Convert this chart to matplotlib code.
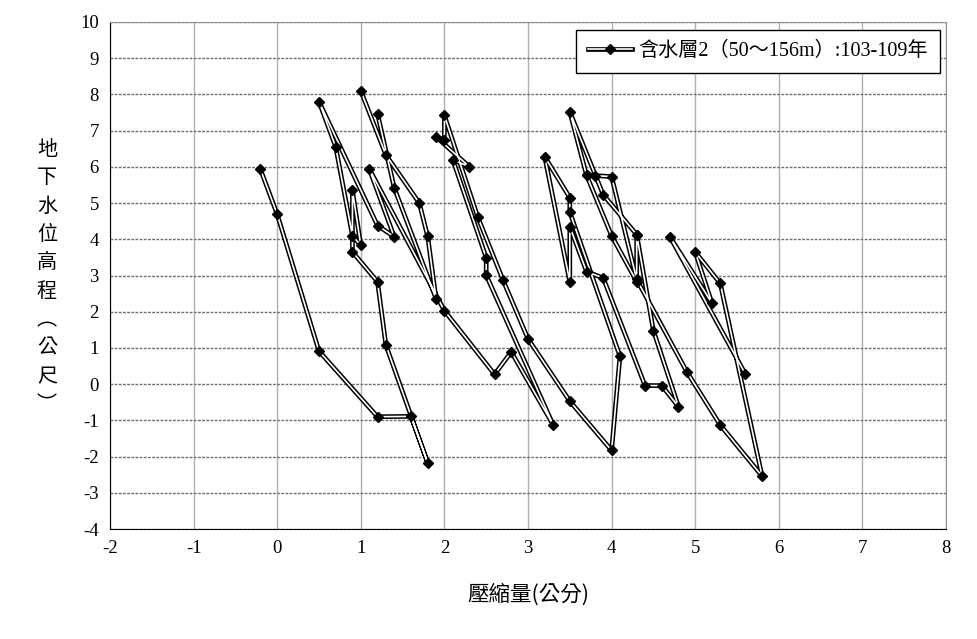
import numpy as np
import matplotlib
matplotlib.use('Agg')
import matplotlib.pyplot as plt

plt.rcParams['axes.unicode_minus'] = False

nan = np.nan

# 壓縮量(公分) and 地下水位(公尺), in drawing order; nan = gap in the series
compaction = [-0.2, 0.0, 0.5, 1.2, 1.6, 1.8, 1.3, 1.2, 0.9, 0.9, 1.0, 0.9, 0.7, 0.5,
              1.2, 1.4, 1.1, 2.0, 2.6, 2.8, 3.3, 2.5, 2.5, 2.1, 2.3, 1.9, 2.0, 2.0,
              2.4, 2.7, 3.0, 3.5, 4.0, 4.1, 3.5, 3.5, 3.2, 3.5, 3.5, 3.7, 3.9,
              4.4, 4.6, 4.8, 4.5, 4.3, 3.9, 3.5, 3.7, 3.8, 4.0, 4.3,
              4.9, 5.3, 5.8, 5.3, 5.0, 5.2, 4.7, 5.6,
              nan,
              1.0, 1.3, 1.7, 1.8, 1.9, 1.4, 1.2,
              nan,
              3.7, 4.0, 4.3, 4.3]
water_level = [5.93, 4.69, 0.91, -0.90, -0.89, -2.17, 1.08, 2.83, 3.65, 5.35, 3.83, 4.10, 6.55, 7.80,
               4.38, 4.07, 5.95, 2.03, 0.27, 0.89, -1.12, 3.01, 3.49, 6.20, 6.00, 6.83, 6.74, 7.42,
               4.61, 2.88, 1.25, -0.47, -1.83, 0.77, 4.75, 5.15, 6.28, 2.83, 4.35, 3.11, 2.93,
               -0.04, -0.04, -0.62, 1.48, 4.13, 5.23, 7.52, 5.77, 5.76, 5.73, 2.89,
               0.34, -1.13, -2.54, 2.78, 3.65, 2.24, 4.06, 0.28,
               nan,
               8.10, 6.33, 5.00, 4.08, 2.36, 5.42, 7.47,
               nan,
               5.77, 4.10, 2.83, 4.13]

series_label = '含水層2（50～156m）:103-109年'
x_ticks = list(range(-2, 9))
y_ticks = list(range(-4, 11))

serif = ['Liberation Serif', 'Noto Sans CJK TC']
cjk = ['Noto Sans CJK TC', 'DejaVu Sans']

fig = plt.figure(figsize=(9.78, 6.39), dpi=100)
ax = fig.add_axes([110/978, 1-529/639, (946-110)/978, (529-22)/639])

l1, = ax.plot(compaction, water_level, color='black', lw=3.4, zorder=3)
l2, = ax.plot(compaction, water_level, color='white', lw=1.2, zorder=4)
l3, = ax.plot(compaction, water_level, ls='none', marker='D', ms=5,
              mfc='black', mec='black', zorder=5)

ax.set_xlim(-2, 8)
ax.set_ylim(-4, 10)
ax.set_xticks(x_ticks)
ax.set_yticks(y_ticks)
for lab in ax.get_xticklabels() + ax.get_yticklabels():
    lab.set_family(serif)
    lab.set_fontsize(13.5)
ax.tick_params(length=0, pad=8)

ax.grid(axis='x', color='#b0b0b0', lw=1)
ax.grid(axis='y', color='#707070', lw=1, ls=(0, (2, 1)))
ax.set_axisbelow(True)
for side in ['top', 'right']:
    ax.spines[side].set_color('#909090')
for side in ['left', 'bottom']:
    ax.spines[side].set_color('black')

ax.set_xlabel('壓縮量(公分)', family=cjk, fontsize=15.5, labelpad=19)
ylab = '\n'.join('地下水位高程︵公尺︶')
fig.text(0.048, 1 - 277/639, ylab, family=cjk, fontsize=14.5, ha='center', va='center',
         linespacing=1.46)

leg = ax.legend([(l1, l2, l3)], [series_label], loc='upper right',
                bbox_to_anchor=((940-110)/836, (529-30)/507), borderaxespad=0,
                prop={'family': serif, 'size': 14.5},
                fancybox=False, edgecolor='black', framealpha=1, handlelength=2.2,
                borderpad=0.6, handletextpad=0.3)
leg.get_frame().set_linewidth(1)

plt.savefig('out.png', dpi=100)
